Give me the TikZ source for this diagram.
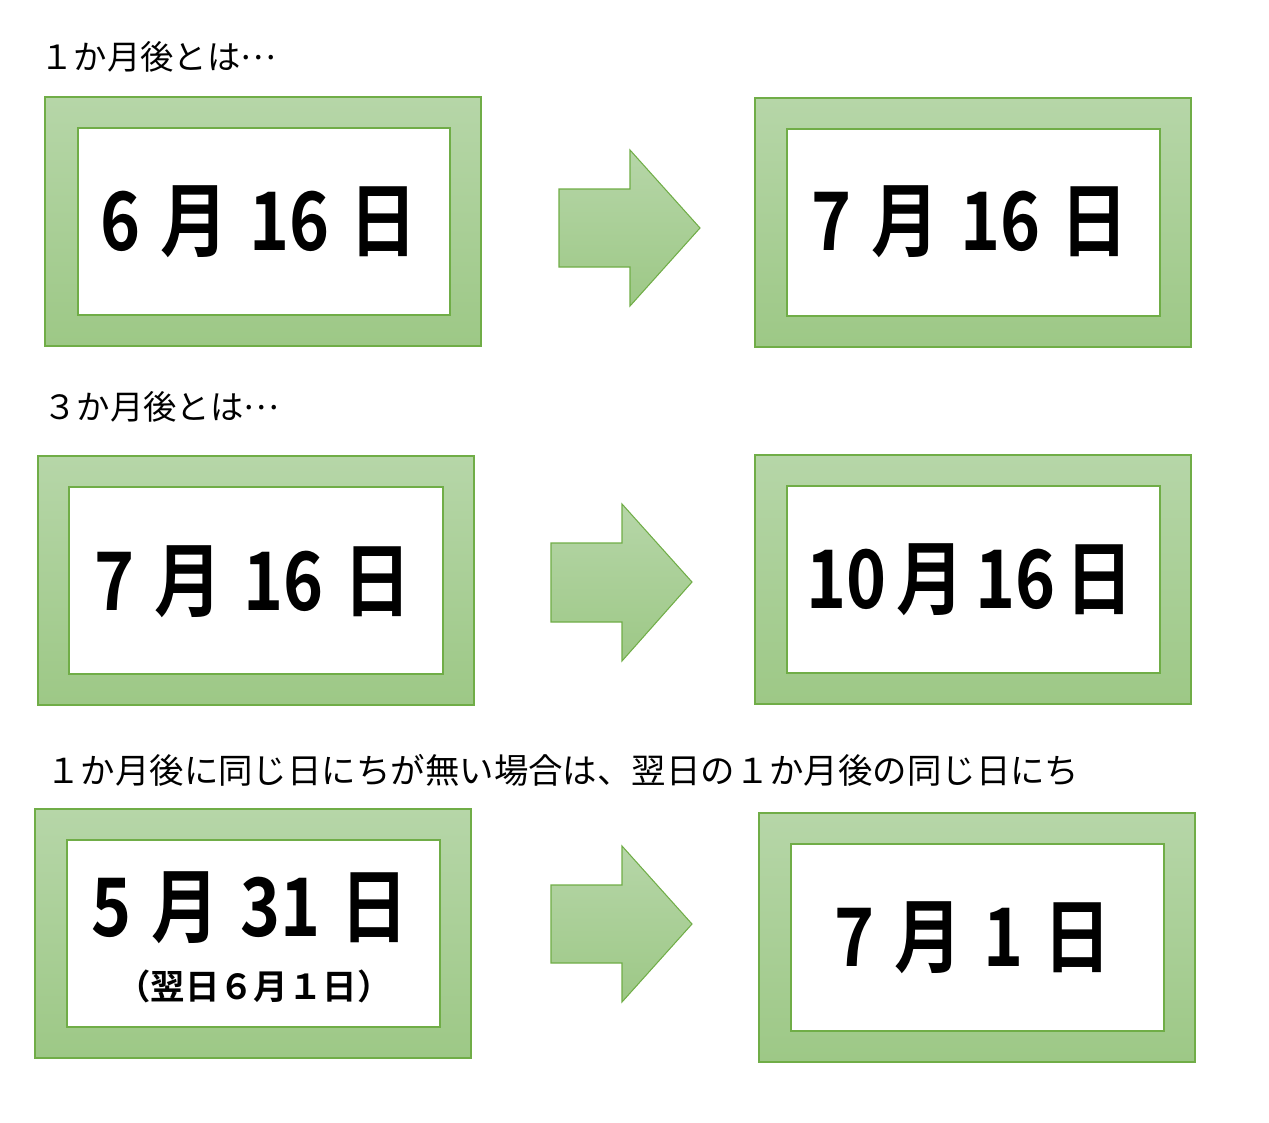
\documentclass[tikz,border=0pt]{standalone}
\usepackage{fontspec}
\newfontfamily\jp{Noto Sans CJK JP}
\newfontfamily\jpb{Noto Sans CJK JP Bold}
\definecolor{gtop}{HTML}{B6D6A8}
\definecolor{gbot}{HTML}{9DC886}
\definecolor{gline}{HTML}{70AD47}
\tikzset{
  frameout/.style={draw=gline, line width=0.6pt, top color=gtop, bottom color=gbot},
  framein/.style={draw=gline, line width=0.6pt, fill=white},
  bigarrow/.style={draw=gline, line width=0.6pt, top color=gtop, bottom color=gbot},
  lbl/.style={anchor=west, inner sep=0pt, font=\jp\fontsize{19pt}{21pt}\selectfont},
  big/.style={inner sep=0pt, font=\jpb\fontsize{46pt}{48pt}\selectfont},
  sub/.style={inner sep=0pt, font=\jpb\fontsize{19.6pt}{21pt}\selectfont},
}
\newcommand{\mycond}[1]{\scalebox{0.84}[1]{#1}}
\newcommand{\mywg}{\hspace{0.3em}}
\newcommand{\mynarrow}{\hspace{0.15em}}
\newcommand{\mydots}{\raisebox{0.3em}{…}}
\begin{document}
\begin{tikzpicture}[x=0.02cm,y=-0.02cm]
\useasboundingbox (0,0) rectangle (1269,1123);
% Row 1
\node[lbl] (l1) at (40,57) {１か月後とは\mydots};
\draw[frameout] (45,97) rectangle (481,346);
\draw[framein] (78,128) rectangle (450,315);
\node[big] (t1) at (259,222) {\mycond{6\mywg 月\mywg 16\mywg 日}};
\draw[bigarrow] (559,189) -- (630,189) -- (630,150) -- (700,228) -- (630,306) -- (630,267) -- (559,267) -- cycle;
\draw[frameout] (755,98) rectangle (1191,347);
\draw[framein] (787,129) rectangle (1160,316);
\node[big] (t2) at (970,222) {\mycond{7\mywg 月\mywg 16\mywg 日}};
% Row 2
\node[lbl] (l2) at (43,407) {３か月後とは\mydots};
\draw[frameout] (38,456) rectangle (474,705);
\draw[framein] (69,487) rectangle (443,674);
\node[big] (t3) at (253,582) {\mycond{7\mywg 月\mywg 16\mywg 日}};
\draw[bigarrow] (551,543) -- (622,543) -- (622,504) -- (692,582) -- (622,661) -- (622,622) -- (551,622) -- cycle;
\draw[frameout] (755,455) rectangle (1191,704);
\draw[framein] (787,486) rectangle (1160,673);
\node[big] (t4) at (970,580) {\mycond{10\mynarrow 月\mynarrow 16\mynarrow 日}};
% Row 3
\node[lbl, font=\jp\fontsize{19.6pt}{21pt}\selectfont] (l3) at (46,770) {１か月後に同じ日にちが無い場合は、翌日の１か月後の同じ日にち};
\draw[frameout] (35,809) rectangle (471,1058);
\draw[framein] (67,840) rectangle (440,1027);
\node[big] (t5) at (250,908) {\mycond{5\mywg 月\mywg 31\mywg 日}};
\node[sub] (t6) at (254,986) {（翌日６月１日）};
\draw[bigarrow] (551,885) -- (622,885) -- (622,846) -- (692,924) -- (622,1002) -- (622,963) -- (551,963) -- cycle;
\draw[frameout] (759,813) rectangle (1195,1062);
\draw[framein] (791,844) rectangle (1164,1031);
\node[big] (t7) at (973,938) {\mycond{7\mywg 月\mywg 1\mywg 日}};
\end{tikzpicture}
\end{document}
